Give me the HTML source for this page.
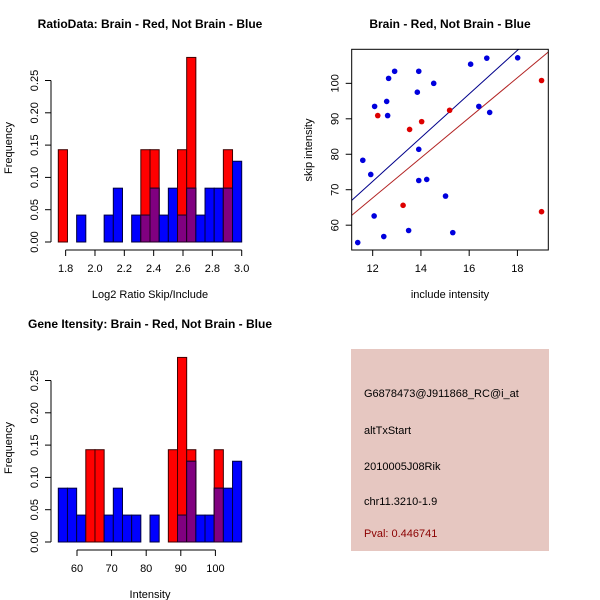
<!DOCTYPE html>
<html><head><meta charset="utf-8"><style>
body{margin:0;background:#fff;}
svg{display:block;font-family:"Liberation Sans",Arial,sans-serif;}
.t{font-weight:bold;font-size:12px;text-anchor:middle;}
.l{font-size:11px;}
.ax{stroke:#000;stroke-width:1;fill:none;}
</style></head><body>
<svg id="s" width="600" height="600" viewBox="0 0 600 600">
<rect width="600" height="600" fill="#fff"/>
</svg>
<script>
// Histogram 1 (ratio) data: counts per bin (20 bins, 1.75..3.0)
const ratioBlueCounts=[0,0,1,0,0,1,2,0,1,1,2,1,2,1,2,1,2,2,2,3];
const ratioRedCounts=[1,0,0,0,0,0,0,0,0,1,1,0,0,1,2,0,0,0,1,0];
const ratioRange=[1.75,3.0];
const ratioTicks=[1.8,2.0,2.2,2.4,2.6,2.8,3.0];
// Histogram 2 (intensity)
const intBlueCounts=[2,2,1,0,0,1,2,1,1,0,1,0,0,1,3,1,1,2,2,3];
const intRedCounts=[0,0,0,1,1,0,0,0,0,0,0,0,1,2,1,0,0,1,0,0];
const intRange=[54.6,107.6];
const intTicks=[60,70,80,90,100];
const freqTicks=[0,0.05,0.10,0.15,0.20,0.25];
const blueTotal=24, redTotal=7;
// Scatter
const blueX=[11.38,11.59,11.92,12.06,12.08,12.46,12.58,12.62,12.66,12.91,13.49,13.85,13.91,13.91,13.91,14.24,14.53,15.02,15.32,16.06,16.40,16.85,16.73,18.01];
const blueY=[55.1,78.3,74.3,62.6,93.5,56.8,94.9,90.9,101.4,103.4,58.5,97.5,103.4,81.4,72.6,72.9,100.0,68.2,57.9,105.4,93.5,91.8,107.1,107.2];
const redX=[12.21,13.53,14.03,15.19,13.26,19.0,19.0];
const redY=[90.9,87.0,89.2,92.4,65.6,100.8,63.8];
const blueFit=[-1.56,6.16];
const redFit=[-0.1,5.65];
const scX=[11.13,19.28], scY=[53.0,109.6];
const scXTicks=[12,14,16,18], scYTicks=[60,70,80,90,100];

const NS='http://www.w3.org/2000/svg';
const svg=document.getElementById('s');
function mk(tag,attrs,parent,text){const e=document.createElementNS(NS,tag);for(const k in attrs)e.setAttribute(k,attrs[k]);if(text!==undefined)e.textContent=text;(parent||svg).appendChild(e);return e;}

function hist(oy,blue,red,range,ticks,title,xlab,prefix,tickFmt){
  const g=mk('g',{});
  
  
  const x0=58.3,x1=241.7,yb=oy+242,ppf=32.3/0.05;
  const sx=v=>x0+(v-range[0])/(range[1]-range[0])*(x1-x0);
  const sy=f=>yb-f*ppf;
  const n=blue.length,bw=(x1-x0)/n;
  for(let i=0;i<n;i++){
    const fb=blue[i]/blueTotal, fr=red[i]/redTotal, x=x0+i*bw;
    if(fr>0){const r=mk('rect',{x:x,y:sy(fr),width:bw,height:yb-sy(fr),fill:'#ff0000',stroke:'#400000','stroke-width':1},g);
      }
    if(fb>0){const r=mk('rect',{x:x,y:sy(fb),width:bw,height:yb-sy(fb),fill:'#0000ff',stroke:'#000040','stroke-width':1},g);
      }
    const m=Math.min(fb,fr);
    if(m>0){const r=mk('rect',{x:x,y:sy(m),width:bw,height:yb-sy(m),fill:'#800080',stroke:'#200020','stroke-width':1},g);
      }
  }
  // y axis
  const ya=mk('g',{},g);
  mk('line',{x1:51,x2:51,y1:sy(0),y2:sy(0.25),class:'ax'},ya);
  freqTicks.forEach(f=>{mk('line',{x1:45,x2:51,y1:sy(f),y2:sy(f),class:'ax'},ya);
    const t=mk('text',{x:38,y:sy(f),class:'l','text-anchor':'middle',transform:`rotate(-90 38 ${sy(f)})`},ya,f.toFixed(2));});
  const yt=mk('text',{x:12,y:oy+148,class:'l','text-anchor':'middle',transform:`rotate(-90 12 ${oy+148})`,'font-size':'10'},g,'Frequency');
  
  // x axis
  const xa=mk('g',{},g);
  const ay=oy+250;
  mk('line',{x1:sx(ticks[0]),x2:sx(ticks[ticks.length-1]),y1:ay,y2:ay,class:'ax'},xa);
  ticks.forEach(v=>{mk('line',{x1:sx(v),x2:sx(v),y1:ay,y2:ay+6,class:'ax'},xa);
    mk('text',{x:sx(v),y:ay+22,class:'l','text-anchor':'middle'},xa,tickFmt(v));});
  const xt=mk('text',{x:150,y:oy+298,class:'l','text-anchor':'middle','font-size':'10'},g,xlab);
  
  const tt=mk('text',{x:x0+(x1-x0)/2+0, y:oy+28,class:'t'},g,title);
  
}
hist(0,ratioBlueCounts,ratioRedCounts,ratioRange,ratioTicks,'RatioData: Brain - Red, Not Brain - Blue','Log2 Ratio Skip/Include','ratio',v=>v.toFixed(1));
hist(300,intBlueCounts,intRedCounts,intRange,intTicks,'Gene Itensity: Brain - Red, Not Brain - Blue','Intensity','intensity',v=>String(v));

// scatter
(function(){
  const g=mk('g',{});
  const L=51.7,R=248.3,T=49.3,B=250;
  const sx=v=>L+(v-scX[0])/(scX[1]-scX[0])*(R-L);
  const sy=v=>B-(v-scY[0])/(scY[1]-scY[0])*(B-T);
  const cp=mk('clipPath',{id:'cp'},g);mk('rect',{x:L,y:T,width:R-L,height:B-T},cp);
  const lines=mk('g',{'clip-path':'url(#cp)'},g);
  [[blueFit,'#00008b','blue-fit-line'],[redFit,'#b22222','red-fit-line']].forEach(([f,c,n])=>{
    const ln=mk('line',{x1:sx(scX[0]),y1:sy(f[0]+f[1]*scX[0]),x2:sx(scX[1]),y2:sy(f[0]+f[1]*scX[1]),stroke:c,'stroke-width':1},lines);
    });
  blueX.forEach((x,i)=>{const c=mk('circle',{cx:sx(x),cy:sy(blueY[i]),r:2.8,fill:'#0000dd'},g);
    });
  redX.forEach((x,i)=>{const c=mk('circle',{cx:sx(x),cy:sy(redY[i]),r:2.8,fill:'#dd0000'},g);
    });
  const fr=mk('rect',{x:L,y:T,width:R-L,height:B-T,class:'ax'},g);
  
  const xa=mk('g',{},g);
  scXTicks.forEach(v=>{mk('line',{x1:sx(v),x2:sx(v),y1:B,y2:B+6,class:'ax'},xa);
    mk('text',{x:sx(v),y:B+22,class:'l','text-anchor':'middle'},xa,String(v));});
  const ya=mk('g',{},g);
  scYTicks.forEach(v=>{mk('line',{x1:L-6,x2:L,y1:sy(v),y2:sy(v),class:'ax'},ya);
    mk('text',{x:L-13,y:sy(v),class:'l','text-anchor':'middle',transform:`rotate(-90 ${L-13} ${sy(v)})`},ya,String(v));});
  const xt=mk('text',{x:150,y:298,class:'l','text-anchor':'middle','font-size':'10'},g,'include intensity');
  
  const yt=mk('text',{x:12,y:150,class:'l','text-anchor':'middle','font-size':'10',transform:'rotate(-90 12 150)'},g,'skip intensity');
  
  const tt=mk('text',{x:150,y:28,class:'t'},g,'Brain - Red, Not Brain - Blue');
  
  g.setAttribute('transform','translate(300,0)');
})();

// info box
(function(){
  const g=mk('g',{});
  mk('rect',{x:351,y:349,width:198,height:202,fill:'#e6c7c1'},g);
  const items=[['G6878473@J911868_RC@i_at',397,'#000','probe-id'],['altTxStart',434,'#000','event-type'],['2010005J08Rik',470,'#000','gene-name'],['chr11.3210-1.9',505,'#000','location'],['Pval: 0.446741',537,'#8b0000','p-value']];
  items.forEach(([t,y,c,n])=>{const e=mk('text',{x:364,y:y,class:'l',fill:c,'font-size':'10'},g,t);
    });
})();
</script>
</body></html>
